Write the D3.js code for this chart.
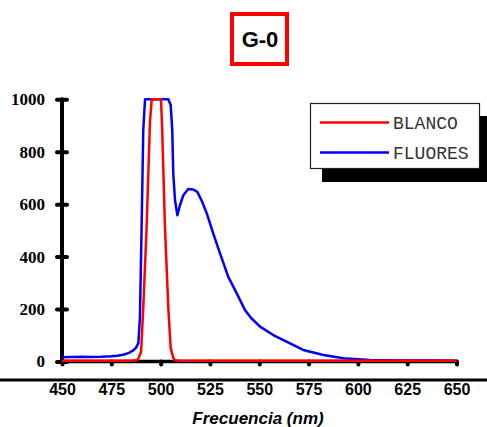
<!DOCTYPE html>
<html>
<head>
<meta charset="utf-8">
<script src="https://cdn.jsdelivr.net/npm/d3@7"></script>
<style>
  body { margin: 0; background: #fff; }
  svg { display: block; }
</style>
</head>
<body>
<div id="chart"></div>
<script>
// Data
var xTicks = [450, 475, 500, 525, 550, 575, 600, 625, 650];
var yTicks = [0, 200, 400, 600, 800, 1000];

var blancoNm  = [450, 470, 485, 487.9, 488.8, 490.1, 491.2, 492.9, 494.6, 495.5, 500.2, 500.8, 502.2, 503.9, 505.1, 506.4, 507.3, 510, 550, 600, 650];
var blancoVal = [3, 3, 3, 5, 12, 37, 204, 512, 915, 1000, 1000, 882, 512, 204, 51, 14, 5, 3, 3, 3, 3];

var fluoNm  = [450, 455, 460, 465, 470, 475, 478, 481, 484, 486, 487.5, 488.7, 489.5, 490.4, 491.2, 492.1, 496, 500, 503.9, 505.1, 505.9, 506.4, 507.3, 508.5, 509.8, 511.5, 514, 516.5, 518.6, 521, 523.4, 526.7, 530.1, 534.3, 538.6, 542.8, 546, 550.4, 557.1, 565.6, 572.3, 582.5, 592.6, 606, 620, 631, 640, 650];
var fluoVal = [16, 17, 18, 17, 18, 20, 22, 26, 33, 42, 52, 70, 166, 528, 882, 1000, 1000, 1000, 1000, 978, 882, 718, 615, 558, 596, 634, 658, 656, 647, 610, 565, 488, 412, 323, 260, 196, 165, 133, 101, 69, 44, 25, 12, 6, 4, 4, 4, 3];

var keys = ["BLANCO", "FLUORES"];
var colors = { BLANCO: "#ff0000", FLUORES: "#0000ff" };

var W = 487, H = 427;

var svg = d3.select("#chart").append("svg")
    .attr("width", W)
    .attr("height", H);

// Scales
var x = d3.scaleLinear().domain([450, 650]).range([62, 456.5]);
var y = d3.scaleLinear().domain([0, 1000]).range([361.5, 99.3]);

// Title box
svg.append("rect")
    .attr("x", 232).attr("y", 14)
    .attr("width", 55).attr("height", 50)
    .style("fill", "#fff")
    .style("stroke", "#ff0000")
    .style("stroke-width", 4);

svg.append("text")
    .attr("x", 260).attr("y", 47)
    .attr("text-anchor", "middle")
    .style("font-family", "Liberation Sans, Arial, sans-serif")
    .style("font-weight", "bold")
    .style("font-size", "22px")
    .text("G-0");

// Lines
var line = d3.line()
    .x(function (d) { return x(d[0]); })
    .y(function (d) { return y(d[1]); });

// Y axis
var yAxis = svg.append("g")
    .attr("transform", "translate(" + x(450) + ",0)")
    .call(d3.axisLeft(y).tickValues(yTicks).tickFormat(d3.format("d")).tickSize(5).tickPadding(12));

yAxis.select(".domain").remove();
yAxis.selectAll(".tick line")
    .attr("x1", 5).attr("x2", -5)
    .style("stroke", "#000")
    .style("stroke-width", 4)
    .style("stroke-linecap", "round");
yAxis.selectAll("text")
    .style("font-family", "Liberation Serif, Times New Roman, serif")
    .style("font-weight", "bold")
    .style("font-size", "17px")
    .style("fill", "#000");

svg.append("line")
    .attr("x1", x(450)).attr("x2", x(450))
    .attr("y1", y(1000)).attr("y2", y(0))
    .style("stroke", "#000")
    .style("stroke-width", 4)
    .style("stroke-linecap", "round");

// X axis
var xAxis = svg.append("g")
    .attr("transform", "translate(0," + y(0) + ")")
    .call(d3.axisBottom(x).tickValues(xTicks).tickSize(3));

xAxis.select(".domain").remove();
xAxis.selectAll(".tick line")
    .style("stroke", "#000")
    .style("stroke-width", 4)
    .style("stroke-linecap", "round");
xAxis.selectAll("text")
    .attr("y", 33)
    .attr("dy", 0)
    .style("font-family", "Liberation Sans, Arial, sans-serif")
    .style("font-weight", "bold")
    .style("font-size", "16px")
    .style("fill", "#000");

svg.append("line")
    .attr("x1", x(450)).attr("x2", x(650))
    .attr("y1", y(0)).attr("y2", y(0))
    .style("stroke", "#000")
    .style("stroke-width", 3.5)
    .style("stroke-linecap", "round");

// separator line across the page
svg.append("line")
    .attr("x1", 0).attr("x2", W)
    .attr("y1", 380).attr("y2", 380)
    .style("stroke", "#000")
    .style("stroke-width", 3);

// X axis label
svg.append("text")
    .attr("x", 258).attr("y", 424)
    .attr("text-anchor", "middle")
    .style("font-family", "Liberation Sans, Arial, sans-serif")
    .style("font-weight", "bold")
    .style("font-style", "italic")
    .style("font-size", "17px")
    .text("Frecuencia (nm)");

// Series paths
var fluoData = fluoNm.map(function (d, i) { return [d, fluoVal[i]]; });
var blancoData = blancoNm.map(function (d, i) { return [d, blancoVal[i]]; });

svg.append("path")
    .attr("d", line(fluoData))
    .style("fill", "none")
    .style("stroke", colors.FLUORES)
    .style("stroke-width", 2.5)
    .style("stroke-linejoin", "round");

svg.append("path")
    .attr("d", line(blancoData))
    .style("fill", "none")
    .style("stroke", colors.BLANCO)
    .style("stroke-width", 2.5)
    .style("stroke-linejoin", "round");

// Legend with drop shadow
svg.append("rect")
    .attr("x", 322).attr("y", 116)
    .attr("width", 170).attr("height", 66)
    .style("fill", "#000");

svg.append("rect")
    .attr("x", 310.5).attr("y", 103.5)
    .attr("width", 169).attr("height", 65)
    .style("fill", "#fff")
    .style("stroke", "#222")
    .style("stroke-width", 1.2);

svg.selectAll("legline")
    .data(keys)
    .enter()
    .append("line")
    .attr("x1", 320).attr("x2", 389)
    .attr("y1", function (d, i) { return 122.5 + i * 30; })
    .attr("y2", function (d, i) { return 122.5 + i * 30; })
    .style("stroke", function (d) { return colors[d]; })
    .style("stroke-width", 2.5);

svg.selectAll("leglabel")
    .data(keys)
    .enter()
    .append("text")
    .attr("x", 393)
    .attr("y", function (d, i) { return 128.5 + i * 30; })
    .style("font-family", "Liberation Mono, Courier New, monospace")
    .style("font-size", "18px")
    .style("fill", "#333")
    .text(function (d) { return d; });
</script>
</body>
</html>
